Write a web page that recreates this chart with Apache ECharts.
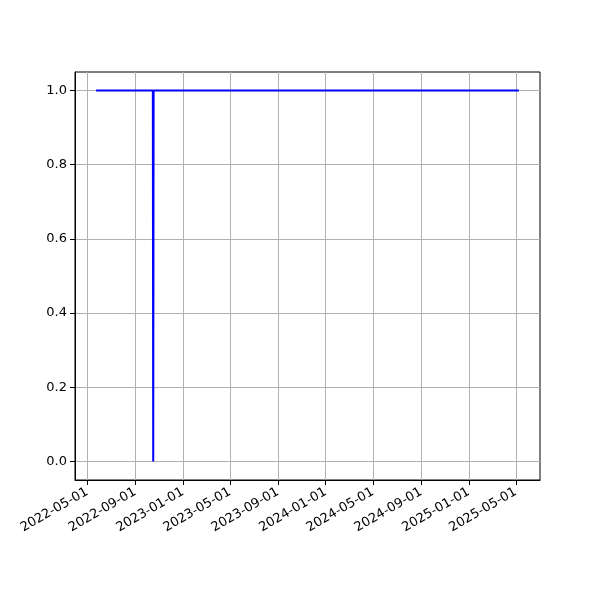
<!DOCTYPE html>
<html><head><meta charset="utf-8">
<script src="https://cdn.jsdelivr.net/npm/echarts@6/dist/echarts.min.js"></script>
<style>html,body{margin:0;padding:0;background:#fff}#c{width:600px;height:600px}</style>
</head><body><div id="c"></div>
<script>
// data
const dates = ['2022-05-24', '2022-10-16', '2022-10-17', '2022-10-18', '2025-05-09'];
const values = [1, 1, 0, 1, 1];
const xTicks = ['2022-05-01','2022-09-01','2023-01-01','2023-05-01','2023-09-01','2024-01-01','2024-05-01','2024-09-01','2025-01-01','2025-05-01'];
const yTicks = [0, 0.2, 0.4, 0.6, 0.8, 1.0];
const xRange = ['2022-03-31', '2025-07-02'];
const yRange = [-0.05, 1.05];

const ts = s => { const p = s.split('-').map(Number); return Date.UTC(p[0], p[1]-1, p[2]); };
const pad = n => (n < 10 ? '0' : '') + n;
const fmt = v => { const d = new Date(v); return d.getUTCFullYear() + '-' + pad(d.getUTCMonth()+1) + '-' + pad(d.getUTCDate()); };

const chart = echarts.init(document.getElementById('c'), null, {renderer: 'canvas'});
chart.setOption({
  animation: false,
  backgroundColor: '#fff',
  grid: {left: 75, right: 60, top: 72, bottom: 120, show: true, borderColor: '#000', borderWidth: 1, containLabel: false},
  xAxis: {
    type: 'value',
    min: ts(xRange[0]), max: ts(xRange[1]),
    axisLine: {show: true, onZero: false, lineStyle: {color: '#000', width: 1}},
    axisTick: {show: true, length: 5, inside: false, lineStyle: {color: '#000'}, customValues: xTicks.map(ts)},
    axisLabel: {color: '#000', fontFamily: 'DejaVu Sans', fontSize: 13, rotate: 30, margin: 11, customValues: xTicks.map(ts), formatter: v => fmt(v), hideOverlap: false},
    splitLine: {show: true, lineStyle: {color: '#b0b0b0', width: 1}}
  },
  yAxis: {
    type: 'value',
    min: yRange[0], max: yRange[1],
    axisLine: {show: true, onZero: false, lineStyle: {color: '#000', width: 1}},
    axisTick: {show: true, length: 5, inside: false, lineStyle: {color: '#000'}, customValues: yTicks},
    axisLabel: {color: '#000', fontFamily: 'DejaVu Sans', fontSize: 13, margin: 8, customValues: yTicks, formatter: v => v.toFixed(1)},
    splitLine: {show: true, lineStyle: {color: '#b0b0b0', width: 1}}
  },
  series: [{
    type: 'line',
    data: dates.map((d, i) => [ts(d), values[i]]),
    showSymbol: false,
    symbol: 'none',
    lineStyle: {color: '#0000ff', width: 2},
    itemStyle: {color: '#0000ff'}
  }]
});
</script></body></html>
